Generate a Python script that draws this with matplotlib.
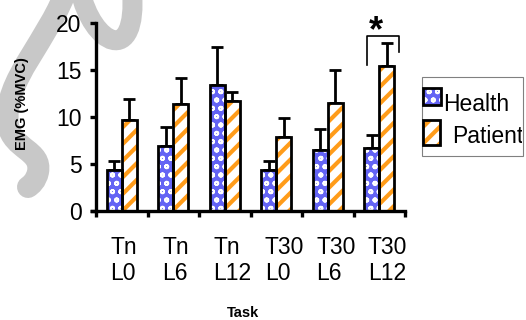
import matplotlib
matplotlib.use("Agg")
import matplotlib.pyplot as plt
from matplotlib.patches import Rectangle, PathPatch, Circle
from matplotlib.path import Path
from matplotlib.transforms import Affine2D
from matplotlib.lines import Line2D
import numpy as np

plt.rcParams['font.family'] = ['Liberation Sans', 'DejaVu Sans']

tasks = ["Tn\nL0", "Tn\nL6", "Tn\nL12", "T30\nL0", "T30\nL6", "T30\nL12"]
health = [4.4, 6.9, 13.4, 4.4, 6.5, 6.7]
health_err = [0.9, 2.0, 4.0, 0.9, 2.2, 1.4]
patient = [9.7, 11.4, 11.7, 7.9, 11.5, 15.4]
patient_err = [2.2, 2.8, 1.0, 2.0, 3.5, 2.5]
yticks = [0, 5, 10, 15, 20]
series = ["Health", "Patient"]

W, H = 526, 320
fig = plt.figure(figsize=(W / 100, H / 100), dpi=100)

def fx(px):
    return px / W

def fy(py):
    return 1 - py / H

# faint decorative watermark stroke (pixel coords from top-left)
pix = Affine2D().scale(1, -1).translate(0, H)
WM = '#c8c8c8'
spine_path = Path([(68, -15), (50, 40), (2, 80), (8, 125), (13, 150), (42, 150), (38, 172),
                   (36, 181), (31, 185), (28, 187)],
                  [Path.MOVETO, Path.CURVE4, Path.CURVE4, Path.CURVE4, Path.CURVE4,
                   Path.CURVE4, Path.CURVE4, Path.CURVE4, Path.CURVE4, Path.CURVE4])
bowl_path = Path([(80, -10), (92, 45), (138, 68), (132, -10)],
                 [Path.MOVETO, Path.CURVE4, Path.CURVE4, Path.CURVE4])
for pth, lwpx in [(spine_path, 22), (bowl_path, 20)]:
    fig.add_artist(PathPatch(pth, transform=pix, fill=False, edgecolor=WM,
                             linewidth=lwpx * 0.72, capstyle='round', zorder=-5))
fig.add_artist(Circle((29, 187), 9, transform=pix, facecolor=WM, edgecolor='none', zorder=-5))

# axes: data x=0 at px 96, x=6 at 405; y=0 at 211, y=20 at 23
ax = fig.add_axes([fx(92), fy(211), fx(405) - fx(92), fy(23) - fy(211)])
ax.set_facecolor('none')
ax.set_xlim(-0.08, 6)
ax.set_ylim(0, 20)

BLUE_FACE = '#6464f4'
ORANGE = '#ff9c1a'
bw = 0.29
x = np.arange(len(tasks))
xh = x + 0.5 - bw / 2
xp = x + 0.5 + bw / 2

# error bars (upward only), under bars
ax.errorbar(xh, health, yerr=[np.zeros(6), health_err], fmt='none', ecolor='black',
            elinewidth=2.0, capsize=4.2, capthick=2.0, zorder=1)
ax.errorbar(xp, patient, yerr=[np.zeros(6), patient_err], fmt='none', ecolor='black',
            elinewidth=2.0, capsize=4.2, capthick=2.0, zorder=1)

with plt.rc_context({'hatch.linewidth': 1.3}):
    ax.bar(xh, health, width=bw, color=BLUE_FACE, edgecolor='white', hatch='oo',
           linewidth=0, zorder=2)
with plt.rc_context({'hatch.linewidth': 3.0}):
    ax.bar(xp, patient, width=bw, color='white', edgecolor=ORANGE, hatch='//',
           linewidth=0, zorder=2)
ax.bar(xh, health, width=bw, fill=False, edgecolor='black', linewidth=2.0, zorder=3)
ax.bar(xp, patient, width=bw, fill=False, edgecolor='black', linewidth=2.0, zorder=3)

# spines
for s in ['top', 'right']:
    ax.spines[s].set_visible(False)
ax.spines['left'].set_position(('data', 0))
ax.spines['left'].set_linewidth(2.4)
ax.spines['bottom'].set_linewidth(2.4)
ax.spines['left'].set_zorder(4)
ax.spines['bottom'].set_zorder(4)

ax.set_yticks(yticks)
ax.set_yticklabels([str(v) for v in yticks], fontsize=16.5)
ax.tick_params(axis='y', direction='out', length=4, width=2.4, pad=6.5)

ax.set_xticks(np.arange(0, 7))
ax.set_xticklabels([])
ax.tick_params(axis='x', which='major', direction='out', length=4.5, width=2.4)
ax.set_xticks(x + 0.28, minor=True)
ax.set_xticklabels(tasks, minor=True, fontsize=16.5, ha='left', multialignment='left',
                   linespacing=1.15)
ax.tick_params(axis='x', which='minor', length=0, pad=18)

# significance bracket and asterisk on last group
bx0, bx1 = 5.26, 5.88
ax.add_line(Line2D([bx0, bx0, bx1, bx1], [15.5, 18.6, 18.6, 16.9], color='black',
                   linewidth=1.2, clip_on=False, zorder=5))
ax.text(5.43, 19.1, '*', fontsize=26, fontweight='bold', ha='center', va='center',
        clip_on=False)

# axis labels
fig.text(fx(22), fy(104), 'EMG (%MVC)', rotation=90, fontsize=10.5, fontweight='bold',
         ha='center', va='center')
fig.text(fx(243), fy(313), 'Task', fontsize=10.5, fontweight='bold', ha='center',
         va='center')

# legend (manual)
frame = Rectangle((fx(422), fy(156)), fx(523) - fx(422), fy(77) - fy(156),
                  transform=fig.transFigure, fill=False, edgecolor='#808080',
                  linewidth=0.8)
fig.add_artist(frame)
with plt.rc_context({'hatch.linewidth': 1.3}):
    fig.add_artist(Rectangle((fx(423), fy(105)), fx(441) - fx(423), fy(88) - fy(105),
                             transform=fig.transFigure, facecolor=BLUE_FACE,
                             edgecolor='white', hatch='oo', linewidth=0))
with plt.rc_context({'hatch.linewidth': 3.0}):
    fig.add_artist(Rectangle((fx(423), fy(145)), fx(440) - fx(423), fy(120) - fy(145),
                             transform=fig.transFigure, facecolor='white',
                             edgecolor=ORANGE, hatch='//', linewidth=0))
fig.add_artist(Rectangle((fx(423), fy(105)), fx(441) - fx(423), fy(88) - fy(105),
                         transform=fig.transFigure, fill=False, edgecolor='black',
                         linewidth=2.0))
fig.add_artist(Rectangle((fx(423), fy(145)), fx(440) - fx(423), fy(120) - fy(145),
                         transform=fig.transFigure, fill=False, edgecolor='black',
                         linewidth=2.0))
t1 = fig.text(fx(443), fy(111), series[0], fontsize=16.5, ha='left', va='baseline')
t2 = fig.text(fx(452), fy(143), series[1], fontsize=16.5, ha='left', va='baseline')
clip = Rectangle((fx(422), fy(156)), fx(522) - fx(422), fy(77) - fy(156),
                 transform=fig.transFigure, visible=False)
fig.add_artist(clip)
t2.set_clip_path(clip)
t1.set_clip_path(clip)

fig.savefig('out.png', dpi=100)
